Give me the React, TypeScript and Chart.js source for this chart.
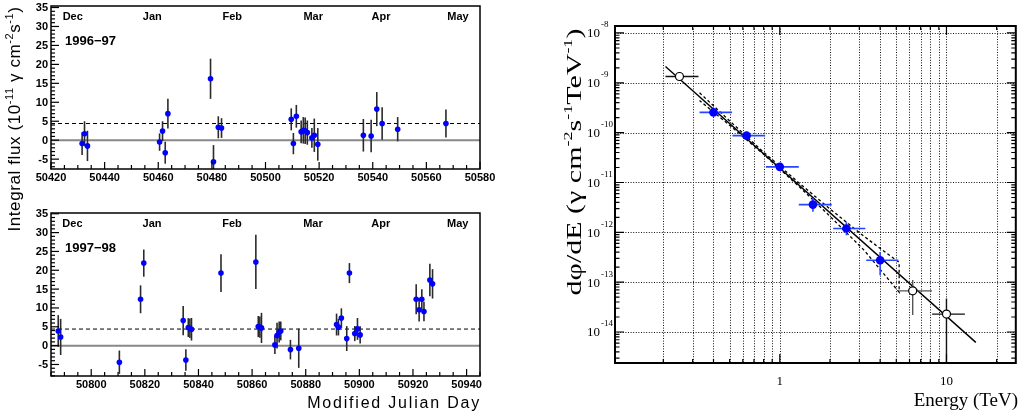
import React, { useEffect, useRef } from 'react';
import { Chart, registerables } from 'chart.js';
Chart.register(...registerables);

const SANS = '"Liberation Sans", Arial, Helvetica, sans-serif';
const SERIF = '"Liberation Serif", "Times New Roman", Times, serif';

// ---------- Light curve 1996-97 ----------
const mjd9697 = [50431.6, 50432.5, 50433.6, 50460.5, 50461.6, 50462.6, 50463.6, 50479.5, 50480.6, 50482.4, 50483.6, 50509.6, 50510.4, 50511.5, 50513.3, 50514.1, 50514.8, 50515.6, 50517.3, 50518.2, 50519.5, 50536.5, 50539.4, 50541.5, 50543.5, 50549.3, 50567.3];
const flux9697 = [-0.9, 1.7, -1.5, -0.5, 2.4, -3.3, 7.0, 16.2, -5.7, 3.4, 3.2, 5.5, -0.9, 6.3, 2.2, 2.6, 2.5, 2.0, 0.6, 1.3, -1.1, 1.3, 1.1, 8.2, 4.4, 2.9, 4.4];
const err9697 = [3.0, 3.3, 4.0, 2.3, 2.6, 2.9, 3.9, 5.3, 4.4, 2.9, 2.6, 2.9, 2.8, 3.0, 3.0, 3.5, 3.5, 3.2, 2.6, 4.4, 4.3, 4.3, 4.3, 4.5, 4.3, 3.2, 3.7];

// ---------- Light curve 1997-98 ----------
const mjd9798 = [50787.7, 50788.6, 50810.5, 50818.4, 50819.6, 50834.3, 50835.3, 50836.2, 50836.8, 50837.4, 50848.4, 50861.4, 50862.3, 50862.9, 50863.5, 50868.5, 50869.3, 50870.1, 50870.7, 50874.3, 50877.4, 50891.5, 50892.2, 50893.3, 50895.3, 50896.3, 50898.3, 50899.3, 50900.3, 50921.2, 50922.3, 50923.3, 50924.1, 50926.3, 50927.3];
const flux9798 = [3.9, 2.3, -4.4, 12.3, 21.9, 6.65, -3.8, 4.8, 4.6, 4.35, 19.25, 22.2, 5.06, 4.9, 4.7, 0.2, 2.66, 3.6, 3.9, -1.06, -0.7, 5.6, 4.9, 7.3, 1.87, 19.25, 3.2, 4.44, 2.85, 12.3, 9.5, 12.3, 9.05, 17.4, 16.4];
const err9798 = [4.2, 4.8, 3.1, 3.7, 3.6, 3.9, 2.85, 2.5, 2.6, 3.0, 5.0, 7.2, 2.8, 2.8, 4.0, 2.4, 3.4, 2.8, 2.5, 2.6, 5.2, 2.9, 2.2, 2.6, 3.3, 2.66, 2.0, 2.9, 2.3, 4.0, 3.1, 2.66, 2.6, 4.3, 3.9];

const threshold = 4.4;
const monthNames = ['Dec', 'Jan', 'Feb', 'Mar', 'Apr', 'May'];
const monthMjd9697 = [50428.1, 50457.8, 50487.6, 50517.8, 50543.1, 50571.8];
const monthMjd9798 = [50793.0, 50822.7, 50852.5, 50882.7, 50908.0, 50936.7];
const xTicks9697 = [50420, 50440, 50460, 50480, 50500, 50520, 50540, 50560, 50580];
const xTicks9798 = [50800, 50820, 50840, 50860, 50880, 50900, 50920, 50940];
const yTicksLc = [-5, 0, 5, 10, 15, 20, 25, 30, 35];

// ---------- Spectrum ----------
const openE = [0.25, 6.27, 10.0];
const openF = [1.34e-9, 6.7e-14, 2.29e-14];
const openELo = [0.206, 5.2, 8.2];
const openEHi = [0.325, 8.2, 12.9];
const openFLo = [1.12e-9, 2.19e-14, 1e-16];
const openFHi = [1.6e-9, 1.1e-13, 4.7e-14];

const blueE = [0.40, 0.632, 1.0, 1.58, 2.51, 4.0];
const blueF = [2.55e-10, 8.7e-11, 2.06e-11, 3.6e-12, 1.19e-12, 2.75e-13];
const blueELo = [0.33, 0.52, 0.825, 1.3, 2.09, 3.3];
const blueEHi = [0.517, 0.817, 1.30, 2.05, 3.26, 5.15];
const blueFLo = [2.35e-10, 8.0e-11, 1.88e-11, 2.6e-12, 8.7e-13, 1.38e-13];
const blueFHi = [2.75e-10, 9.4e-11, 2.25e-11, 4.9e-12, 1.6e-12, 4.04e-13];

const fitE = [0.206, 15.0];
const fitF = [2.12e-9, 6.2e-15];

const bandE = [0.33, 0.5, 0.8, 1.3, 2.0, 3.2, 5.2, 5.2, 3.2, 2.0, 1.3, 0.8, 0.5, 0.33];
const bandF = [6.3e-10, 1.72e-10, 4.05e-11, 9.9e-12, 2.95e-12, 8.3e-13, 2.5e-13, 6.3e-14, 4.4e-13, 2.1e-12, 8.4e-12, 3.67e-11, 1.41e-10, 4.4e-10];

const xGridE = [0.2, 0.3, 0.4, 0.5, 0.6, 0.7, 0.8, 0.9, 1, 2, 3, 4, 5, 6, 7, 8, 9, 10, 20];
const xLabelE = [1, 10];
const yDecadeExp = [-8, -9, -10, -11, -12, -13, -14];

type LcOpts = {
  mjd: number[]; flux: number[]; err: number[];
  xMin: number; xMax: number; yMin: number; yMax: number;
  xTicks: number[]; monthPos: number[]; season: string;
  padding: { left: number; right: number; top: number; bottom: number };
};

function lightCurveConfig(o: LcOpts): any {
  const plugin = {
    id: 'lc',
    beforeDatasetDraw(chart: any, args: any) {
      if (args.index !== 0) return;
      const { ctx, chartArea: a, scales: { x, y } } = chart;
      ctx.save();
      ctx.beginPath();
      ctx.rect(a.left, a.top, a.right - a.left, a.bottom - a.top);
      ctx.clip();
      ctx.strokeStyle = '#2a2a2a';
      ctx.lineWidth = 1.6;
      for (let i = 0; i < o.mjd.length; i++) {
        const px = x.getPixelForValue(o.mjd[i]);
        ctx.beginPath();
        ctx.moveTo(px, y.getPixelForValue(o.flux[i] - o.err[i]));
        ctx.lineTo(px, y.getPixelForValue(o.flux[i] + o.err[i]));
        ctx.stroke();
      }
      ctx.restore();
    },
    afterDraw(chart: any) {
      const { ctx, chartArea: a, scales: { x, y } } = chart;
      ctx.save();
      ctx.strokeStyle = '#000';
      ctx.lineWidth = 1.5;
      ctx.strokeRect(a.left, a.top, a.right - a.left, a.bottom - a.top);
      ctx.lineWidth = 1.2;
      for (let v = Math.ceil(o.yMin); v <= o.yMax; v += 1) {
        const py = y.getPixelForValue(v);
        const len = v % 5 === 0 ? 8 : 4;
        ctx.beginPath();
        ctx.moveTo(a.left, py);
        ctx.lineTo(a.left + len, py);
        ctx.stroke();
      }
      for (let v = Math.ceil(o.xMin / 5) * 5; v <= o.xMax; v += 5) {
        const px = x.getPixelForValue(v);
        const len = v % 20 === 0 ? 7 : 4;
        ctx.beginPath();
        ctx.moveTo(px, a.bottom);
        ctx.lineTo(px, a.bottom - len);
        ctx.stroke();
      }
      ctx.fillStyle = '#000';
      ctx.font = `bold 11px ${SANS}`;
      ctx.textAlign = 'right';
      ctx.textBaseline = 'middle';
      for (const v of yTicksLc) ctx.fillText(String(v), a.left - 3, y.getPixelForValue(v) + 0.5);
      ctx.textAlign = 'center';
      for (const v of o.xTicks) ctx.fillText(String(v), x.getPixelForValue(v), a.bottom + 8.5);
      ctx.font = `bold 11px ${SANS}`;
      for (let i = 0; i < monthNames.length; i++) {
        ctx.fillText(monthNames[i], x.getPixelForValue(o.monthPos[i]), a.top + 10.5);
      }
      ctx.font = `bold 13px ${SANS}`;
      ctx.textAlign = 'left';
      ctx.fillText(o.season, 65, a.top + 35.5);
      ctx.restore();
    },
  };
  return {
    type: 'scatter',
    data: {
      datasets: [
        {
          data: o.mjd.map((m, i) => ({ x: m, y: o.flux[i] })),
          pointRadius: 2.8,
          pointBackgroundColor: '#0000ff',
          pointBorderColor: '#0000ff',
          pointBorderWidth: 0,
          showLine: false,
        },
        {
          data: [{ x: o.xMin, y: threshold }, { x: o.xMax, y: threshold }],
          showLine: true,
          borderColor: '#000',
          borderWidth: 1,
          borderDash: [4, 3],
          pointRadius: 0,
        },
        {
          data: [{ x: o.xMin, y: 0 }, { x: o.xMax, y: 0 }],
          showLine: true,
          borderColor: '#888',
          borderWidth: 2,
          pointRadius: 0,
        },
      ],
    },
    options: {
      responsive: false,
      maintainAspectRatio: false,
      animation: false,
      devicePixelRatio: 1,
      events: [],
      layout: { padding: o.padding },
      plugins: { legend: { display: false }, tooltip: { enabled: false } },
      scales: {
        x: { type: 'linear', min: o.xMin, max: o.xMax, display: false },
        y: { type: 'linear', min: o.yMin, max: o.yMax, display: false },
      },
    },
    plugins: [plugin],
  };
}

function spectrumConfig(): any {
  const plugin = {
    id: 'spec',
    beforeDatasetsDraw(chart: any) {
      const { ctx, chartArea: a, scales: { x, y } } = chart;
      ctx.save();
      ctx.strokeStyle = '#111';
      ctx.lineWidth = 1;
      ctx.setLineDash([1, 1.6]);
      for (const e of xGridE) {
        const px = Math.round(x.getPixelForValue(e)) + 0.5;
        ctx.beginPath();
        ctx.moveTo(px, a.top);
        ctx.lineTo(px, a.bottom);
        ctx.stroke();
      }
      for (const ex of yDecadeExp) {
        const py = Math.round(y.getPixelForValue(Math.pow(10, ex))) + 0.5;
        ctx.beginPath();
        ctx.moveTo(a.left, py);
        ctx.lineTo(a.right, py);
        ctx.stroke();
      }
      ctx.restore();
    },
    beforeDatasetDraw(chart: any, args: any) {
      if (args.index !== 1) return;
      const { ctx, chartArea: a, scales: { x, y } } = chart;
      ctx.save();
      ctx.beginPath();
      ctx.rect(a.left, a.top, a.right - a.left, a.bottom - a.top);
      ctx.clip();
      const bar = (e: number, f: number, el: number, eh: number, fl: number, fh: number) => {
        const px = x.getPixelForValue(e);
        const py = y.getPixelForValue(f);
        ctx.beginPath();
        ctx.moveTo(x.getPixelForValue(el), py);
        ctx.lineTo(x.getPixelForValue(eh), py);
        ctx.moveTo(px, y.getPixelForValue(fl));
        ctx.lineTo(px, y.getPixelForValue(fh));
        ctx.stroke();
      };
      ctx.lineWidth = 1.4;
      for (let i = 0; i < openE.length; i++) {
        ctx.strokeStyle = i === 1 ? '#555' : '#111';
        bar(openE[i], openF[i], openELo[i], openEHi[i], openFLo[i], openFHi[i]);
      }
      ctx.strokeStyle = '#2746ff';
      ctx.lineWidth = 1.6;
      for (let i = 0; i < blueE.length; i++) {
        bar(blueE[i], blueF[i], blueELo[i], blueEHi[i], blueFLo[i], blueFHi[i]);
      }
      ctx.restore();
    },
    afterDraw(chart: any) {
      const { ctx, chartArea: a, scales: { x, y } } = chart;
      ctx.save();
      ctx.strokeStyle = '#000';
      ctx.lineWidth = 2;
      ctx.strokeRect(a.left, a.top, a.right - a.left, a.bottom - a.top);
      ctx.lineWidth = 1.2;
      for (let ex = -15; ex <= -8; ex++) {
        for (let k = 1; k <= 9; k++) {
          const v = k * Math.pow(10, ex);
          if (v < y.min || v > y.max) continue;
          const py = y.getPixelForValue(v);
          const len = k === 1 ? 9 : 4.5;
          ctx.beginPath();
          ctx.moveTo(a.left, py);
          ctx.lineTo(a.left + len, py);
          ctx.moveTo(a.right, py);
          ctx.lineTo(a.right - len, py);
          ctx.stroke();
        }
      }
      for (const e of xGridE) {
        const px = x.getPixelForValue(e);
        const major = e === 1 || e === 10;
        const len = major ? 9 : 4;
        ctx.beginPath();
        ctx.moveTo(px, a.bottom);
        ctx.lineTo(px, a.bottom - len);
        ctx.moveTo(px, a.top);
        ctx.lineTo(px, a.top + len);
        ctx.stroke();
      }
      ctx.fillStyle = '#000';
      ctx.textBaseline = 'middle';
      for (const ex of yDecadeExp) {
        const py = y.getPixelForValue(Math.pow(10, ex));
        ctx.font = `13px ${SERIF}`;
        ctx.textAlign = 'right';
        ctx.fillText('10', a.left - 15, py + 1);
        ctx.font = `9px ${SERIF}`;
        ctx.textAlign = 'left';
        ctx.fillText(String(ex), a.left - 14, py - 8);
      }
      ctx.font = `13px ${SERIF}`;
      ctx.textAlign = 'center';
      for (const e of xLabelE) ctx.fillText(String(e), x.getPixelForValue(e), a.bottom + 19);
      ctx.restore();
    },
  };
  return {
    type: 'scatter',
    data: {
      datasets: [
        {
          data: openE.map((e, i) => ({ x: e, y: openF[i] })),
          pointRadius: 4,
          pointBackgroundColor: '#fff',
          pointBorderColor: '#000',
          pointBorderWidth: 1.2,
          showLine: false,
        },
        {
          data: blueE.map((e, i) => ({ x: e, y: blueF[i] })),
          pointRadius: 4.3,
          pointBackgroundColor: '#0000ff',
          pointBorderColor: '#0000ff',
          pointBorderWidth: 0,
          showLine: false,
        },
        {
          data: fitE.map((e, i) => ({ x: e, y: fitF[i] })),
          showLine: true,
          borderColor: '#000',
          borderWidth: 1.4,
          pointRadius: 0,
        },
        {
          data: bandE.map((e, i) => ({ x: e, y: bandF[i] })),
          showLine: true,
          borderColor: '#000',
          borderWidth: 1.3,
          borderDash: [3, 2.5],
          pointRadius: 0,
        },
      ],
    },
    options: {
      responsive: false,
      maintainAspectRatio: false,
      animation: false,
      devicePixelRatio: 1,
      events: [],
      layout: { padding: { left: 75, right: 3, top: 26, bottom: 51 } },
      plugins: { legend: { display: false }, tooltip: { enabled: false } },
      scales: {
        x: { type: 'logarithmic', min: 0.1026, max: 26.06, display: false },
        y: { type: 'logarithmic', min: 2.39e-15, max: 1.38e-8, display: false },
      },
    },
    plugins: [plugin],
  };
}

function ChartCanvas(props: { make: () => any; left: number; top: number; width: number; height: number }) {
  const ref = useRef<HTMLCanvasElement>(null);
  useEffect(() => {
    const chart = new Chart(ref.current as HTMLCanvasElement, props.make());
    return () => chart.destroy();
  }, []);
  return (
    <canvas
      ref={ref}
      width={props.width}
      height={props.height}
      style={{ position: 'absolute', left: props.left, top: props.top, width: props.width, height: props.height }}
    />
  );
}

const supSans: React.CSSProperties = { fontSize: 11, position: 'relative', top: -7 };
const supSerif: React.CSSProperties = { fontSize: 12, position: 'relative', top: -9 };

export default function App() {
  return (
    <div style={{ position: 'absolute', left: 0, top: 0, width: 1021, height: 414, background: '#fff', overflow: 'hidden' }}>
      <ChartCanvas
        left={0}
        top={0}
        width={505}
        height={195}
        make={() =>
          lightCurveConfig({
            mjd: mjd9697, flux: flux9697, err: err9697,
            xMin: 50420, xMax: 50580, yMin: -7.6, yMax: 35.4,
            xTicks: xTicks9697, monthPos: monthMjd9697, season: '1996\u221297',
            padding: { left: 51, right: 25, top: 6, bottom: 26 },
          })
        }
      />
      <ChartCanvas
        left={0}
        top={200}
        width={505}
        height={214}
        make={() =>
          lightCurveConfig({
            mjd: mjd9798, flux: flux9798, err: err9798,
            xMin: 50785, xMax: 50945, yMin: -8.06, yMax: 35.2,
            xTicks: xTicks9798, monthPos: monthMjd9798, season: '1997\u221298',
            padding: { left: 51, right: 25, top: 13, bottom: 38 },
          })
        }
      />
      <ChartCanvas left={540} top={0} width={481} height={414} make={spectrumConfig} />
      <div
        style={{
          position: 'absolute', left: 15 - 140, top: 119 - 12, width: 280, height: 24, lineHeight: '24px',
          textAlign: 'center', transform: 'rotate(-90deg)', fontFamily: SANS, fontSize: 17,
          letterSpacing: '0.6px', whiteSpace: 'nowrap', color: '#000',
        }}
      >
        Integral flux (10<span style={supSans}>-11</span> γ cm<span style={supSans}>-2</span>s<span style={supSans}>-1</span>)
      </div>
      <div
        style={{
          position: 'absolute', right: 1021 - 481, top: 403 - 11, height: 22, lineHeight: '22px',
          fontFamily: SANS, fontSize: 16, letterSpacing: '1.8px', whiteSpace: 'nowrap', color: '#000',
        }}
      >
        Modified Julian Day
      </div>
      <div
        style={{
          position: 'absolute', left: 574 - 160, top: 162 - 12, width: 320, height: 24, lineHeight: '24px',
          textAlign: 'center', transform: 'rotate(-90deg) scaleX(1.5)', fontFamily: SERIF, fontSize: 20,
          whiteSpace: 'nowrap', color: '#000',
        }}
      >
        dφ/dE (γ cm<span style={supSerif}>-2</span>s<span style={supSerif}>-1</span>TeV<span style={supSerif}>-1</span>)
      </div>
      <div
        style={{
          position: 'absolute', right: 3, top: 400 - 12, height: 24, lineHeight: '24px',
          fontFamily: SERIF, fontSize: 19, whiteSpace: 'nowrap', color: '#000',
        }}
      >
        Energy (TeV)
      </div>
    </div>
  );
}
